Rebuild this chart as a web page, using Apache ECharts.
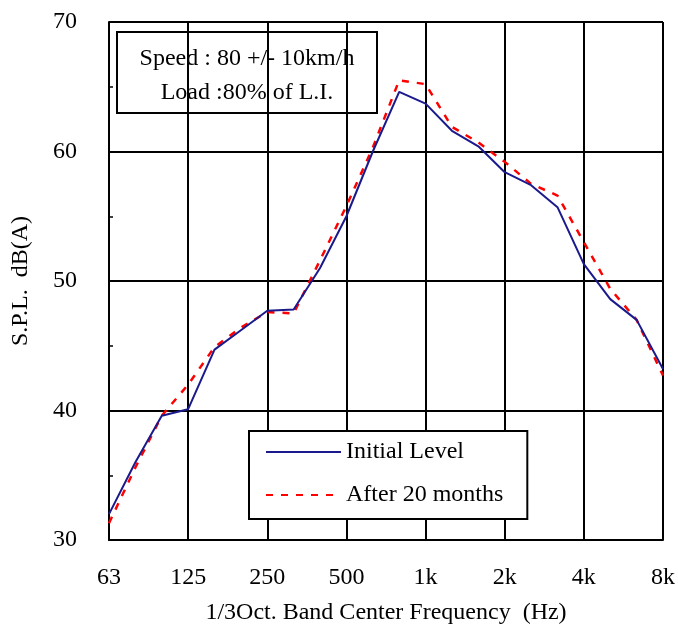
<!DOCTYPE html>
<html>
<head>
<meta charset="utf-8">
<script src="https://cdn.jsdelivr.net/npm/echarts@6/dist/echarts.min.js"></script>
<style>html,body{margin:0;padding:0;background:#fff;}#c{width:678px;height:637px;}</style>
</head>
<body>
<div id="c"></div>
<script>
const bands = ['63','80','100','125','160','200','250','315','400','500','630','800','1k','1.25k','1.6k','2k','2.5k','3.15k','4k','5k','6.3k','8k'];
const initialLevel = [32.0, 36.0, 39.6, 40.1, 44.7, 46.2, 47.7, 47.8, 51.0, 55.0, 60.0, 64.6, 63.7, 61.6, 60.4, 58.4, 57.4, 55.7, 51.3, 48.6, 47.0, 43.2];
const after20 = [31.3, 35.6, 39.6, 42.0, 44.9, 46.4, 47.6, 47.5, 51.6, 55.8, 60.3, 65.5, 65.2, 61.9, 60.7, 59.2, 57.5, 56.6, 53.0, 49.4, 47.0, 42.7];
const yTicks = [30, 40, 50, 60, 70];
const boxLines = ['Speed : 80 +/- 10km/h', 'Load :80% of L.I.'];
const FONT = '"Liberation Serif", "DejaVu Serif", serif';

const chart = echarts.init(document.getElementById('c'), null, {renderer: 'canvas'});
chart.setOption({
  animation: false,
  backgroundColor: '#fff',
  grid: {left: 109, right: 15, top: 22, bottom: 97, containLabel: false},
  xAxis: {
    type: 'category',
    data: bands,
    boundaryGap: false,
    name: '1/3Oct. Band Center Frequency  (Hz)',
    nameLocation: 'middle',
    nameGap: 61,
    nameTextStyle: {fontFamily: FONT, fontSize: 24, color: '#000'},
    axisLine: {lineStyle: {color: '#000', width: 2}},
    axisTick: {show: false},
    axisLabel: {interval: 2, margin: 26, fontFamily: FONT, fontSize: 24, color: '#000'},
    splitLine: {show: true, interval: 2, lineStyle: {color: '#000', width: 2}}
  },
  yAxis: {
    type: 'value',
    min: yTicks[0],
    max: yTicks[yTicks.length - 1],
    interval: 10,
    name: 'S.P.L.  dB(A)',
    nameLocation: 'middle',
    nameGap: 76,
    nameRotate: 90,
    nameTextStyle: {fontFamily: FONT, fontSize: 24, color: '#000'},
    axisLine: {show: true, lineStyle: {color: '#000', width: 2}},
    axisTick: {show: false, inside: true},
    minorTick: {show: true, splitNumber: 2, length: 4, lineStyle: {color: '#000', width: 1.5}},
    axisLabel: {margin: 32, fontFamily: FONT, fontSize: 24, color: '#000'},
    splitLine: {show: true, lineStyle: {color: '#000', width: 2}}
  },
  legend: {
    data: ['Initial Level', 'After 20 months'],
    orient: 'vertical',
    left: 249,
    top: 431,
    padding: [9, 24, 12, 16],
    itemGap: 19,
    itemWidth: 75,
    itemHeight: 16,
    itemStyle: {opacity: 0},
    backgroundColor: '#fff',
    borderColor: '#000',
    borderWidth: 2,
    borderRadius: 0,
    textStyle: {fontFamily: FONT, fontSize: 24, color: '#000'},
    z: 10
  },
  graphic: [{
    type: 'group',
    z: 100,
    children: [
      {type: 'rect', shape: {x: 117, y: 32, width: 260, height: 81}, style: {fill: '#fff', stroke: '#000', lineWidth: 2}},
      {type: 'text', x: 247, y: 59, style: {text: boxLines[0], font: '24px ' + FONT, fill: '#000', align: 'center', verticalAlign: 'middle'}},
      {type: 'text', x: 247, y: 93, style: {text: boxLines[1], font: '24px ' + FONT, fill: '#000', align: 'center', verticalAlign: 'middle'}}
    ]
  }],
  series: [
    {
      name: 'After 20 months',
      type: 'line',
      data: after20,
      symbol: 'none',
      z: 2,
      lineStyle: {color: '#ff0000', width: 2.5, type: [7, 8]},
      itemStyle: {color: '#ff0000'}
    },
    {
      name: 'Initial Level',
      type: 'line',
      data: initialLevel,
      symbol: 'none',
      z: 3,
      lineStyle: {color: '#1a1a8c', width: 2},
      itemStyle: {color: '#1a1a8c'}
    }
  ]
});
</script>
</body>
</html>
